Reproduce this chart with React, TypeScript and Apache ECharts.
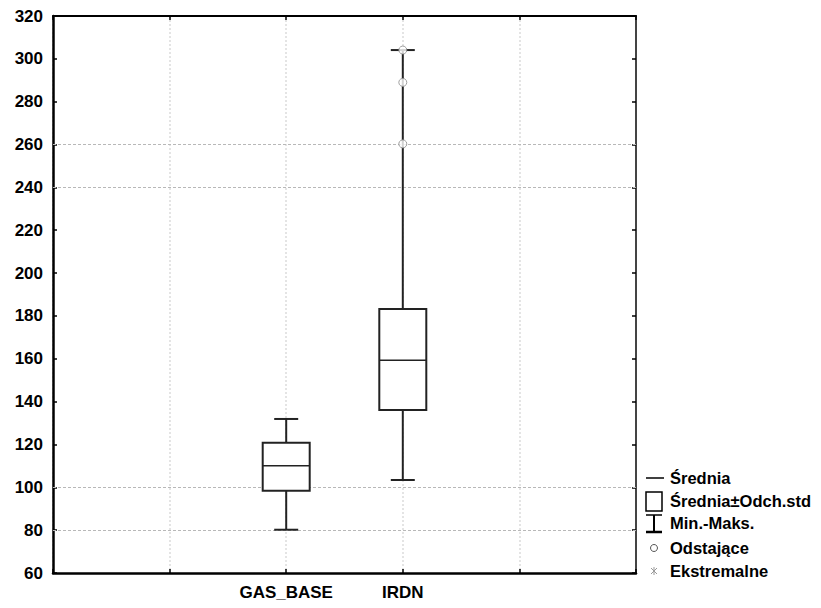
import React, { useEffect, useRef } from "react";
import * as echarts from "echarts";

// Category slots on the x axis (empty slots leave space either side)
const xSlots = ["", "", "GAS_BASE", "IRDN", "", ""];
const categories = ["GAS_BASE", "IRDN"];
// Min, mean-std, mean, mean+std, max
const minValues = [80.2, 103.4];
const lowValues = [98.4, 136.1];
const meanValues = [110.1, 159.3];
const highValues = [120.8, 183.2];
const maxValues = [131.9, 304.1];
// Outliers (IRDN)
const outlierCategory = ["IRDN", "IRDN", "IRDN"];
const outlierValues = [260.3, 289.0, 304.1];
// Horizontal reference grid lines visible in the chart
const gridValues = [80, 100, 240, 260];
const legendLabels = ["Średnia", "Średnia±Odch.std", "Min.-Maks.", "Odstające", "Ekstremalne"];

const FONT = "'Liberation Sans', Arial, sans-serif";

export default function App() {
  const ref = useRef<HTMLDivElement>(null);
  useEffect(() => {
    document.body.style.margin = "0";
    const chart = echarts.init(ref.current!, null, { renderer: "svg" });
    const boxData = categories.map((c, i) => [
      c,
      minValues[i],
      lowValues[i],
      meanValues[i],
      highValues[i],
      maxValues[i],
    ]);
    const outData = outlierCategory.map((c, i) => [c, outlierValues[i]]);
    const legendY = [478, 501, 523, 548, 571];
    const lx = 654;
    const tx = 670;
    const graphics: any[] = [];
    legendLabels.forEach((t, i) => {
      graphics.push({
        type: "text",
        x: tx,
        y: legendY[i],
        style: { text: t, font: `bold 16.5px ${FONT}`, fill: "#000", textVerticalAlign: "middle" },
      });
    });
    graphics.push({ type: "line", shape: { x1: 646, y1: legendY[0], x2: 664, y2: legendY[0] }, style: { stroke: "#000", lineWidth: 1.5 } });
    graphics.push({ type: "rect", shape: { x: 646, y: legendY[1] - 9, width: 16, height: 19 }, style: { stroke: "#000", lineWidth: 1.5, fill: "none" } });
    graphics.push({ type: "line", shape: { x1: 646, y1: legendY[2] - 8, x2: 662, y2: legendY[2] - 8 }, style: { stroke: "#000", lineWidth: 1.5 } });
    graphics.push({ type: "line", shape: { x1: lx, y1: legendY[2] - 8, x2: lx, y2: legendY[2] + 9 }, style: { stroke: "#000", lineWidth: 2 } });
    graphics.push({ type: "line", shape: { x1: 646, y1: legendY[2] + 9, x2: 662, y2: legendY[2] + 9 }, style: { stroke: "#000", lineWidth: 2.5 } });
    graphics.push({ type: "circle", shape: { cx: lx, cy: legendY[3], r: 3.5 }, style: { stroke: "#555", lineWidth: 1, fill: "#fff" } });
    graphics.push({ type: "line", shape: { x1: lx - 3, y1: legendY[4] - 3, x2: lx + 3, y2: legendY[4] + 3 }, style: { stroke: "#999", lineWidth: 1 } });
    graphics.push({ type: "line", shape: { x1: lx - 3, y1: legendY[4] + 3, x2: lx + 3, y2: legendY[4] - 3 }, style: { stroke: "#999", lineWidth: 1 } });
    graphics.push({ type: "line", shape: { x1: lx, y1: legendY[4] - 4, x2: lx, y2: legendY[4] + 4 }, style: { stroke: "#999", lineWidth: 1 } });

    chart.setOption({
      animation: false,
      backgroundColor: "#fff",
      grid: { left: 53, top: 16, right: 185, bottom: 35, containLabel: false },
      xAxis: [
        {
          type: "category",
          data: xSlots,
          boundaryGap: false,
          position: "bottom",
          axisLine: { lineStyle: { color: "#000", width: 2.5 } },
          axisTick: { inside: true, length: 4, lineStyle: { color: "#000", width: 1.5 } },
          axisLabel: { color: "#000", fontFamily: FONT, fontWeight: "bold", fontSize: 17, margin: 11, interval: 0 },
          splitLine: { show: true, lineStyle: { color: "#dcdcdc", type: [2, 2], width: 1.5 } },
        },
        {
          type: "category",
          data: xSlots,
          boundaryGap: false,
          position: "top",
          axisLine: { lineStyle: { color: "#000", width: 2 } },
          axisTick: { inside: true, length: 4, lineStyle: { color: "#000", width: 1.5 } },
          axisLabel: { show: false },
          splitLine: { show: false },
        },
      ],
      yAxis: [
        {
          type: "value",
          min: 60,
          max: 320,
          interval: 20,
          position: "left",
          axisLine: { show: true, lineStyle: { color: "#000", width: 2.5 } },
          axisTick: { show: true, inside: true, length: 4, lineStyle: { color: "#000", width: 1.5 } },
          axisLabel: { color: "#000", fontFamily: FONT, fontWeight: "bold", fontSize: 17, margin: 10 },
          splitLine: { show: false },
        },
        {
          type: "value",
          min: 60,
          max: 320,
          interval: 20,
          position: "right",
          axisLine: { show: true, lineStyle: { color: "#444", width: 2 } },
          axisTick: { show: true, inside: true, length: 4, lineStyle: { color: "#000", width: 1.5 } },
          axisLabel: { show: false },
          splitLine: { show: false },
        },
      ],
      graphic: graphics,
      series: [
        {
          type: "custom",
          xAxisIndex: 0,
          yAxisIndex: 0,
          data: boxData,
          encode: { x: 0, y: [1, 2, 3, 4, 5] },
          markLine: {
            silent: true,
            symbol: "none",
            label: { show: false },
            lineStyle: { color: "#b8b8b8", type: [3, 2], width: 1 },
            data: gridValues.map((v) => ({ yAxis: v })),
            z: 1,
          },
          z: 3,
          renderItem: (params: any, api: any) => {
            const x = api.value(0);
            const pMin = api.coord([x, api.value(1)]);
            const pLo = api.coord([x, api.value(2)]);
            const pMean = api.coord([x, api.value(3)]);
            const pHi = api.coord([x, api.value(4)]);
            const pMax = api.coord([x, api.value(5)]);
            const cx = pMean[0];
            const bw = 47;
            const cw = 24;
            const stroke = "#222";
            return {
              type: "group",
              children: [
                { type: "line", shape: { x1: cx, y1: pHi[1], x2: cx, y2: pMax[1] }, style: { stroke, lineWidth: 2 } },
                { type: "line", shape: { x1: cx, y1: pLo[1], x2: cx, y2: pMin[1] }, style: { stroke, lineWidth: 2 } },
                { type: "line", shape: { x1: cx - cw / 2, y1: pMax[1], x2: cx + cw / 2, y2: pMax[1] }, style: { stroke, lineWidth: 2 } },
                { type: "line", shape: { x1: cx - cw / 2, y1: pMin[1], x2: cx + cw / 2, y2: pMin[1] }, style: { stroke, lineWidth: 2 } },
                {
                  type: "rect",
                  shape: { x: cx - bw / 2, y: pHi[1], width: bw, height: pLo[1] - pHi[1] },
                  style: { stroke, lineWidth: 2, fill: "#fff" },
                },
                { type: "line", shape: { x1: cx - bw / 2, y1: pMean[1], x2: cx + bw / 2, y2: pMean[1] }, style: { stroke, lineWidth: 1.5 } },
              ],
            };
          },
        },
        {
          type: "scatter",
          xAxisIndex: 0,
          yAxisIndex: 0,
          data: outData,
          symbol: "circle",
          symbolSize: 8,
          itemStyle: { color: "#fff", borderColor: "#888", borderWidth: 1 },
          z: 5,
        },
      ],
    });
    return () => chart.dispose();
  }, []);
  return <div ref={ref} style={{ width: 821, height: 608 }} />;
}
